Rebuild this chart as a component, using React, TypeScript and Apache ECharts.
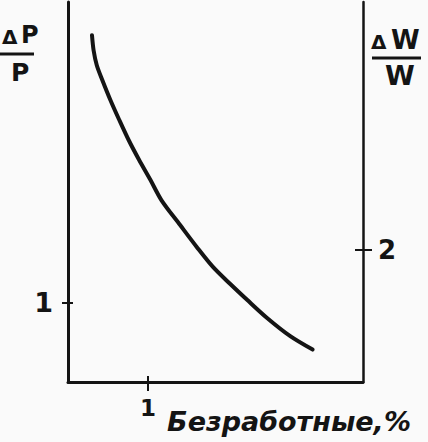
import { useEffect, useRef } from 'react';
import * as echarts from 'echarts';

// curve: unemployment (%) vs. price growth
const curveX = [0.3, 0.32, 0.36, 0.43, 0.53, 0.64, 0.76, 0.89, 1.03, 1.17, 1.4, 1.61, 1.81, 2.03, 2.24, 2.49, 2.78, 3.06];
const curveY = [4.39, 4.2, 4.01, 3.82, 3.57, 3.32, 3.06, 2.81, 2.56, 2.3, 1.99, 1.71, 1.46, 1.24, 1.04, 0.81, 0.58, 0.41];

const xTicks = [1];
const leftTicks = [1];
const rightTicks = [2];

const xTitle = 'Безработные,%';
const leftTitle = ['Δ', 'P', 'P'];
const rightTitle = ['Δ', 'W', 'W'];

const ink = '#141414';
const labelFont = { color: ink, fontWeight: 'bold' as const, fontFamily: 'DejaVu Sans' };

export default function App() {
  const ref = useRef<HTMLDivElement | null>(null);

  useEffect(() => {
    if (!ref.current) return;
    const chart = echarts.init(ref.current, undefined, { renderer: 'svg' });

    const hiddenLine = { show: false, onZero: false };
    chart.setOption({
      animation: false,
      backgroundColor: '#fafafa',
      grid: { left: 68, right: 65, top: 2, bottom: 60 },
      xAxis: [
        {
          type: 'value',
          min: 0,
          max: 3.69,
          position: 'bottom',
          splitLine: { show: false },
          axisLine: { onZero: false, lineStyle: { color: ink, width: 3 } },
          axisTick: { customValues: xTicks, length: 9, lineStyle: { color: ink, width: 2 } },
          axisLabel: { customValues: xTicks, margin: 14, ...labelFont, fontSize: 23 },
        },
        {
          type: 'value',
          min: 0,
          max: 3.69,
          position: 'bottom',
          splitLine: { show: false },
          axisLine: hiddenLine,
          axisTick: { customValues: xTicks, inside: true, length: 6, lineStyle: { color: ink, width: 2 } },
          axisLabel: { show: false },
        },
      ],
      yAxis: [
        {
          type: 'value',
          min: 0,
          max: 4.81,
          position: 'left',
          splitLine: { show: false },
          axisLine: { show: true, onZero: false, lineStyle: { color: ink, width: 3 } },
          axisTick: { show: true, customValues: leftTicks, length: 6, lineStyle: { color: ink, width: 2 } },
          axisLabel: { customValues: leftTicks, margin: 15, ...labelFont, fontSize: 27 },
        },
        {
          type: 'value',
          min: 0,
          max: 5.76,
          position: 'right',
          splitLine: { show: false },
          axisLine: { show: true, onZero: false, lineStyle: { color: ink, width: 2.5 } },
          axisTick: { show: true, customValues: rightTicks, length: 9, lineStyle: { color: ink, width: 2 } },
          axisLabel: { customValues: rightTicks, margin: 15, ...labelFont, fontSize: 26 },
        },
        {
          type: 'value',
          min: 0,
          max: 4.81,
          position: 'left',
          splitLine: { show: false },
          axisLine: hiddenLine,
          axisTick: { show: true, inside: true, customValues: leftTicks, length: 5, lineStyle: { color: ink, width: 2 } },
          axisLabel: { show: false },
        },
        {
          type: 'value',
          min: 0,
          max: 5.76,
          position: 'right',
          splitLine: { show: false },
          axisLine: hiddenLine,
          axisTick: { show: true, inside: true, customValues: rightTicks, length: 8, lineStyle: { color: ink, width: 2 } },
          axisLabel: { show: false },
        },
      ],
      series: [
        {
          type: 'line',
          xAxisIndex: 0,
          yAxisIndex: 0,
          data: curveX.map((x, i) => [x, curveY[i]]),
          smooth: 0.3,
          showSymbol: false,
          lineStyle: { color: ink, width: 4, cap: 'round' },
        },
      ],
      graphic: [
        // ΔP / P
        { type: 'text', x: 2, y: 47, style: { text: leftTitle[0], fill: ink, font: 'bold 20px DejaVu Sans', textAlign: 'left', textVerticalAlign: 'bottom', align: 'left', verticalAlign: 'bottom' } },
        { type: 'text', x: 21, y: 47, style: { text: leftTitle[1], fill: ink, font: 'bold 24px DejaVu Sans', textAlign: 'left', textVerticalAlign: 'bottom', align: 'left', verticalAlign: 'bottom' } },
        { type: 'line', shape: { x1: 0, y1: 54, x2: 34, y2: 54 }, style: { stroke: ink, lineWidth: 3 } },
        { type: 'text', x: 11, y: 60, style: { text: leftTitle[2], fill: ink, font: 'bold 25px DejaVu Sans', textAlign: 'left', textVerticalAlign: 'top', align: 'left', verticalAlign: 'top' } },
        // ΔW / W
        { type: 'text', x: 371, y: 52, style: { text: rightTitle[0], fill: ink, font: 'bold 20px DejaVu Sans', textAlign: 'left', textVerticalAlign: 'bottom', align: 'left', verticalAlign: 'bottom' } },
        { type: 'text', x: 391, y: 53, style: { text: rightTitle[1], fill: ink, font: 'bold 26px DejaVu Sans', textAlign: 'left', textVerticalAlign: 'bottom', align: 'left', verticalAlign: 'bottom' } },
        { type: 'line', shape: { x1: 372, y1: 58, x2: 421, y2: 58 }, style: { stroke: ink, lineWidth: 3 } },
        { type: 'text', x: 385, y: 62, style: { text: rightTitle[2], fill: ink, font: 'bold 27px DejaVu Sans', textAlign: 'left', textVerticalAlign: 'top', align: 'left', verticalAlign: 'top' } },
        // x title
        { type: 'text', x: 289, y: 421, style: { text: xTitle, fill: ink, font: 'italic bold 27px DejaVu Sans', textAlign: 'center', textVerticalAlign: 'middle', align: 'center', verticalAlign: 'middle' } },
      ],
    });

    return () => chart.dispose();
  }, []);

  return <div ref={ref} style={{ position: 'absolute', left: 0, top: 0, width: 428, height: 442 }} />;
}
